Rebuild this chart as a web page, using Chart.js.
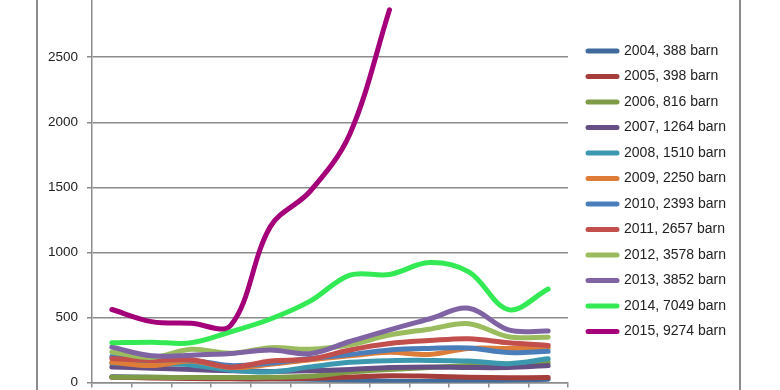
<!DOCTYPE html>
<html>
<head>
<meta charset="utf-8">
<script src="https://cdn.jsdelivr.net/npm/chart.js@4.4.1/dist/chart.umd.min.js"></script>
<style>
html,body{margin:0;padding:0;background:#fff;overflow:hidden}
#box{position:absolute;left:36px;top:0;width:701px;height:390px;border-left:2px solid #8c8c8c;border-right:2px solid #8c8c8c}
</style>
</head>
<body>
<div id="box"><canvas id="chart" width="701" height="390"></canvas></div>
<script>
// months (labels are below the visible crop)
const months=['jan','feb','mar','apr','maj','jun','jul','aug','sep','okt','nov','dec']
const yTicks=[0,500,1000,1500,2000,2500]

const names=['2004, 388 barn','2005, 398 barn','2006, 816 barn','2007, 1264 barn','2008, 1510 barn','2009, 2250 barn',
  '2010, 2393 barn','2011, 2657 barn','2012, 3578 barn','2013, 3852 barn','2014, 7049 barn','2015, 9274 barn']

const y2004=[45,40,35,30,28,25,20,10,8,10,18,25]
const y2005=[40,35,30,28,28,32,42,52,48,40,37,38]
const y2006=[40,40,38,38,40,48,80,100,115,130,140,155]
const y2007=[120,110,100,90,85,90,100,115,120,115,115,130]
const y2008=[150,148,135,95,82,120,155,168,170,165,145,182]
const y2009=[155,130,165,115,140,175,205,232,215,262,262,270]
const y2010=[200,175,172,130,150,185,215,250,262,265,230,240]
const y2011=[185,170,175,118,165,180,250,300,322,336,305,285]
const y2012=[235,192,255,225,268,255,290,365,410,452,352,348]
const y2013=[272,205,210,222,250,222,315,405,488,570,405,395]
const y2014=[305,310,305,390,488,625,825,830,922,850,560,718]
const y2015=[561,468,455,440,1200,1470,1910,2865]

const series=[y2004,y2005,y2006,y2007,y2008,y2009,y2010,y2011,y2012,y2013,y2014,y2015]
const colors=['#3E6B9C','#A53D3B','#7E9C47','#664F85','#3B98AF','#DE7D38',
  '#4A7EBB','#C24F4C','#9BBC5E','#7F63A3','#33EA55','#A3007A']

const gridColor='#8c8c8c'
const font={family:'Liberation Sans',size:14}

const chart=document.querySelector('#chart').getContext('2d')

new Chart(chart,{
    type:'line',
    data:{
        labels:months,
        datasets:series.map((d,i)=>({
            label:names[i],
            data:d,
            borderColor:colors[i],
            backgroundColor:colors[i],
            borderWidth:5,
            borderCapStyle:'round',
            borderJoinStyle:'round',
            pointRadius:0,
            tension:0.35,
            order:series.length-i
        }))
    },
    options:{
        responsive:false,
        animation:false,
        layout:{padding:{top:0,bottom:7.5,left:0,right:3}},
        plugins:{
            tooltip:{enabled:false},
            legend:{
                position:'right',
                maxWidth:220,
                labels:{
                    usePointStyle:true,
                    pointStyle:'line',
                    pointStyleWidth:29,
                    padding:11.5,
                    color:'#222',
                    font:font,
                    sort:(a,b)=>a.datasetIndex-b.datasetIndex,
                    generateLabels(c){
                        return Chart.defaults.plugins.legend.labels.generateLabels(c)
                            .map(l=>({...l,lineCap:'round',lineWidth:5}))
                    }
                }
            }
        },
        scales:{
            x:{
                offset:true,
                grid:{offset:true,drawOnChartArea:false,tickLength:5,color:gridColor,lineWidth:1.5},
                border:{color:gridColor,width:1.5},
                ticks:{display:false},
                afterFit(s){s.height=0}
            },
            y:{
                min:0,
                max:2940,
                grid:{color:gridColor,lineWidth:1.5,tickLength:5},
                border:{color:gridColor,width:1.5},
                afterBuildTicks(s){s.ticks=yTicks.map(v=>({value:v}))},
                ticks:{color:'#222',font:{family:'Liberation Sans',size:13.5},padding:9,callback:v=>String(v)},
                afterFit(s){s.width=54;s.paddingTop=0;s.paddingBottom=0}
            },
            // empty gap between plot and legend
            gap:{
                type:'linear',
                position:'right',
                grid:{display:false},
                border:{display:false},
                ticks:{display:false},
                afterFit(s){s.width=8.5}
            }
        }
    }
})
</script>
</body>
</html>
